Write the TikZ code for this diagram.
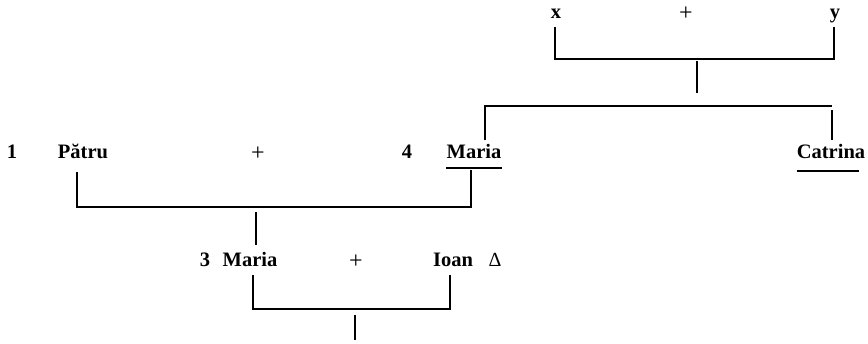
\documentclass[tikz,border=0pt]{standalone}
\usepackage{fontspec}
\setmainfont{Liberation Serif}
\begin{document}
\begin{tikzpicture}[x=1pt,y=-1pt,
  lbl/.style={font=\fontsize{20.5}{24}\selectfont\bfseries, inner sep=0pt, anchor=base},
  plus/.style={font=\fontsize{24}{26}\selectfont, inner sep=0pt, anchor=base},
  reg/.style={font=\fontsize{20}{24}\selectfont, inner sep=0pt, anchor=base},
  link/.style={line width=1.1pt},
  uline/.style={line width=2.2pt}]
\useasboundingbox (0,0) rectangle (868,343);
% texts
\node[lbl] (x) at (556,18) {x};
\node[plus] (p1) at (686,20) {+};
\node[lbl] (y) at (835,18) {y};
\node[lbl] (n1) at (12,158) {1};
\node[lbl] (patru) at (83,158) {Pătru};
\node[plus] (p2) at (258,160) {+};
\node[lbl] (n4) at (407,158) {4};
\node[lbl] (maria4) at (474,158) {Maria};
\node[lbl] (catrina) at (831,158) {Catrina};
\node[lbl] (n3) at (205,266) {3};
\node[lbl] (maria3) at (250,266) {Maria};
\node[plus] (p3) at (356,268) {+};
\node[lbl] (ioan) at (453,266) {Ioan};
\node[reg] (delta) at (495,266) {Δ};
% junction coordinates
\coordinate (xt) at (555,27);  \coordinate (xb) at (555,59);
\coordinate (yt) at (834,27);  \coordinate (yb) at (834,59);
\coordinate (xyt) at (697,61); \coordinate (xyb) at (697,93);
\coordinate (m4t) at (485,140); \coordinate (m4b) at (485,106);
\coordinate (cb) at (832,106); \coordinate (cbb) at (832,110); \coordinate (ct) at (832,140);
\coordinate (pt) at (77,172);  \coordinate (pb) at (77,207);
\coordinate (m4u) at (471,170); \coordinate (m4d) at (471,207);
\coordinate (pmt) at (256,212); \coordinate (pmb) at (256,245);
\coordinate (m3t) at (253,275); \coordinate (m3b) at (253,309);
\coordinate (it) at (450,275); \coordinate (ib) at (450,309);
\coordinate (mit) at (355,315); \coordinate (mib) at (355,340);
% connectors
\draw[link] (xt) -- (xb) -- (yb) -- (yt);
\draw[link] (xyt) -- (xyb);
\draw[link] (m4t) -- (m4b) -- (cb);
\draw[link] (cbb) -- (ct);
\draw[link] (pt) -- (pb) -- (m4d) -- (m4u);
\draw[link] (pmt) -- (pmb);
\draw[link] (m3t) -- (m3b) -- (ib) -- (it);
\draw[link] (mit) -- (mib);
% underlines
\draw[uline] ([yshift=-10pt]maria4.base west) -- ([yshift=-10pt]maria4.base east);
\draw[uline] ([yshift=-13pt]catrina.base west) -- ([yshift=-13pt,xshift=-6pt]catrina.base east);
\end{tikzpicture}
\end{document}
